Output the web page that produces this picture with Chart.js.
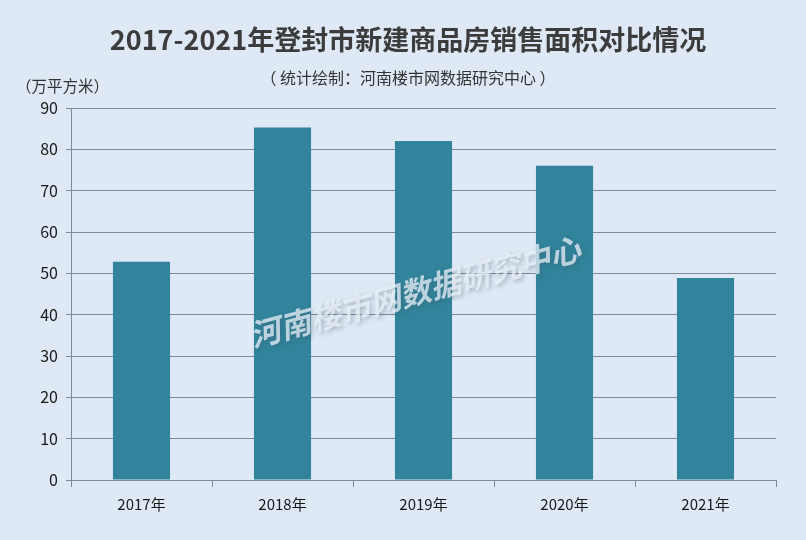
<!DOCTYPE html>
<html lang="zh">
<head>
  <meta charset="UTF-8">
  <title>2017-2021年登封市新建商品房销售面积对比情况</title>
  <script src="https://cdn.jsdelivr.net/npm/chart.js"></script>
  <style>
    html, body { margin: 0; padding: 0; background: #dee9f5; }
    #wrap { width: 806px; height: 540px; }
  </style>
</head>
<body>
  <div id="wrap"><canvas id="areaChart" width="806" height="540"></canvas></div>
  <script>
    const years = ['2017年', '2018年', '2019年', '2020年', '2021年'];
    const salesArea = [52.8, 85.3, 82.0, 76.0, 48.9]; // 万平方米
    const yTicks = [0, 10, 20, 30, 40, 50, 60, 70, 80, 90];

    const titleText = '2017-2021年登封市新建商品房销售面积对比情况';
    const subText = '（ 统计绘制：河南楼市网数据研究中心 ）';
    const unitText = '（万平方米）';
    const markText = '河南楼市网数据研究中心';

    const cjk = '"Noto Sans CJK SC", "Noto Sans", sans-serif';
    const gridGray = '#808a96';

    // titles, unit label and the watermark
    const textPlugin = {
      id: 'texts',
      afterDraw(chart) {
        const c = chart.ctx;
        c.save();
        c.textAlign = 'center';
        c.textBaseline = 'middle';
        c.fillStyle = '#3c3c3c';
        c.font = 'bold 27px ' + cjk;
        c.fillText(titleText, 408, 40);
        c.fillStyle = '#333';
        c.font = '16px ' + cjk;
        c.fillText(subText, 408, 78);
        c.textAlign = 'left';
        c.font = '15.5px ' + cjk;
        c.fillText(unitText, 16, 86);
        c.restore();
      },
      afterDatasetsDraw(chart) {
        const c = chart.ctx;
        c.save();
        c.translate(415, 292);
        c.rotate(-15 * Math.PI / 180);
        c.textAlign = 'center';
        c.textBaseline = 'middle';
        c.font = 'bold italic 31px ' + cjk;
        c.shadowColor = 'rgba(60,80,100,0.45)';
        c.shadowBlur = 4;
        c.shadowOffsetX = 2;
        c.shadowOffsetY = 2;
        c.fillStyle = 'rgba(235,242,250,0.75)';
        c.fillText(markText, 0, 0);
        c.restore();
      }
    };

    const ctx = document.getElementById('areaChart').getContext('2d');
    new Chart(ctx, {
      type: 'bar',
      data: {
        labels: years,
        datasets: [{
          data: salesArea,
          backgroundColor: '#31849b',
          categoryPercentage: 1,
          barPercentage: 0.405
        }]
      },
      options: {
        responsive: false,
        animation: false,
        layout: { padding: { top: 108, right: 30, left: 0, bottom: 0 } },
        plugins: {
          legend: { display: false },
          tooltip: { enabled: false },
          title: { display: false }
        },
        scales: {
          x: {
            offset: true,
            grid: {
              offset: true,
              drawOnChartArea: false,
              color: gridGray,
              tickLength: 7
            },
            border: { color: gridGray },
            ticks: {
              color: '#1a1a1a',
              font: { size: 15, family: cjk },
              padding: 8
            },
            afterFit(scale) { scale.height = 60; }
          },
          y: {
            min: 0,
            max: 90,
            afterBuildTicks(scale) { scale.ticks = yTicks.map(v => ({ value: v })); },
            grid: { color: gridGray, tickLength: 5 },
            border: { color: gridGray },
            ticks: {
              color: '#1a1a1a',
              font: { size: 16, family: cjk },
              padding: 8
            },
            afterFit(scale) { scale.width = 71; }
          }
        }
      },
      plugins: [textPlugin]
    });
  </script>
</body>
</html>
